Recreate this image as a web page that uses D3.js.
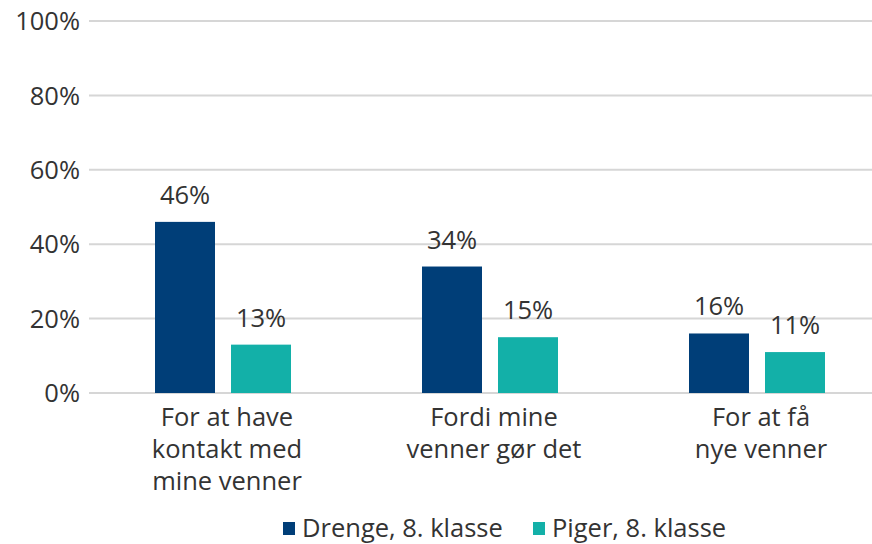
<!DOCTYPE html>
<html><head><meta charset="utf-8">
<script src="https://cdn.jsdelivr.net/npm/d3@7"></script>
<style>
html,body{margin:0;padding:0;background:#fff;}
svg text{font-family:"Open Sans",sans-serif;fill:#333;}
</style></head>
<body><svg id="chart" width="872" height="544"></svg>
<script>
const categories = [["For at have","kontakt med","mine venner"],["Fordi mine","venner gør det"],["For at få","nye venner"]];
const categoryKeys = ["c1","c2","c3"];
const seriesNames = ["Drenge, 8. klasse","Piger, 8. klasse"];
const drenge = [46, 34, 16];
const piger = [13, 15, 11];
const yTicks = [0, 20, 40, 60, 80, 100];
const colors = ["#003e78", "#13b0a8"];

const svg = d3.select("#chart");
const fs = 25.5;
const x = d3.scaleBand().domain(categoryKeys).range([89.5, 890.5]);
const y = d3.scaleLinear().domain([0,100]).range([393, 21]);
const barW = 60, gap = 16;

// gridlines
svg.append("g").selectAll("line").data(yTicks).join("line")
  .attr("x1", 89).attr("x2", 872)
  .attr("y1", d=>y(d)).attr("y2", d=>y(d))
  .attr("stroke", "#d6d6d6").attr("stroke-width", 2);

// y tick labels
svg.append("g").selectAll("text").data(yTicks).join("text")
  .attr("x", 80).attr("y", d=>y(d)).attr("dy", "0.36em")
  .attr("text-anchor", "end").style("font-size", fs+"px")
  .text(d=>d+"%");

const series = [drenge, piger];
series.forEach((vals, si) => {
  const off = si === 0 ? -(barW + gap/2) : gap/2;
  const g = svg.append("g");
  g.selectAll("rect").data(vals).join("rect")
    .attr("x", (d,i)=>x(categoryKeys[i]) + x.bandwidth()/2 + off)
    .attr("y", d=>y(d)).attr("width", barW).attr("height", d=>y(0)-y(d))
    .attr("fill", colors[si]);
  g.selectAll("text").data(vals).join("text")
    .attr("x", (d,i)=>x(categoryKeys[i]) + x.bandwidth()/2 + off + barW/2)
    .attr("y", d=>y(d) - 18)
    .attr("text-anchor", "middle").style("font-size", fs+"px")
    .text(d=>d+"%");
});

// category labels
categories.forEach((lines, i) => {
  const t = svg.append("text").attr("text-anchor","middle").style("font-size", fs+"px");
  lines.forEach((ln, j) => {
    t.append("tspan").attr("x", x(categoryKeys[i]) + x.bandwidth()/2 + 4)
      .attr("y", 426 + j*32).text(ln);
  });
});

// legend
const legendX = [283, 533];
seriesNames.forEach((name, i) => {
  svg.append("rect").attr("x", legendX[i]).attr("y", 522).attr("width", 12).attr("height", 13).attr("fill", colors[i]);
  svg.append("text").attr("x", legendX[i] + 19).attr("y", 537).style("font-size", fs+"px").text(name);
});
</script></body></html>
